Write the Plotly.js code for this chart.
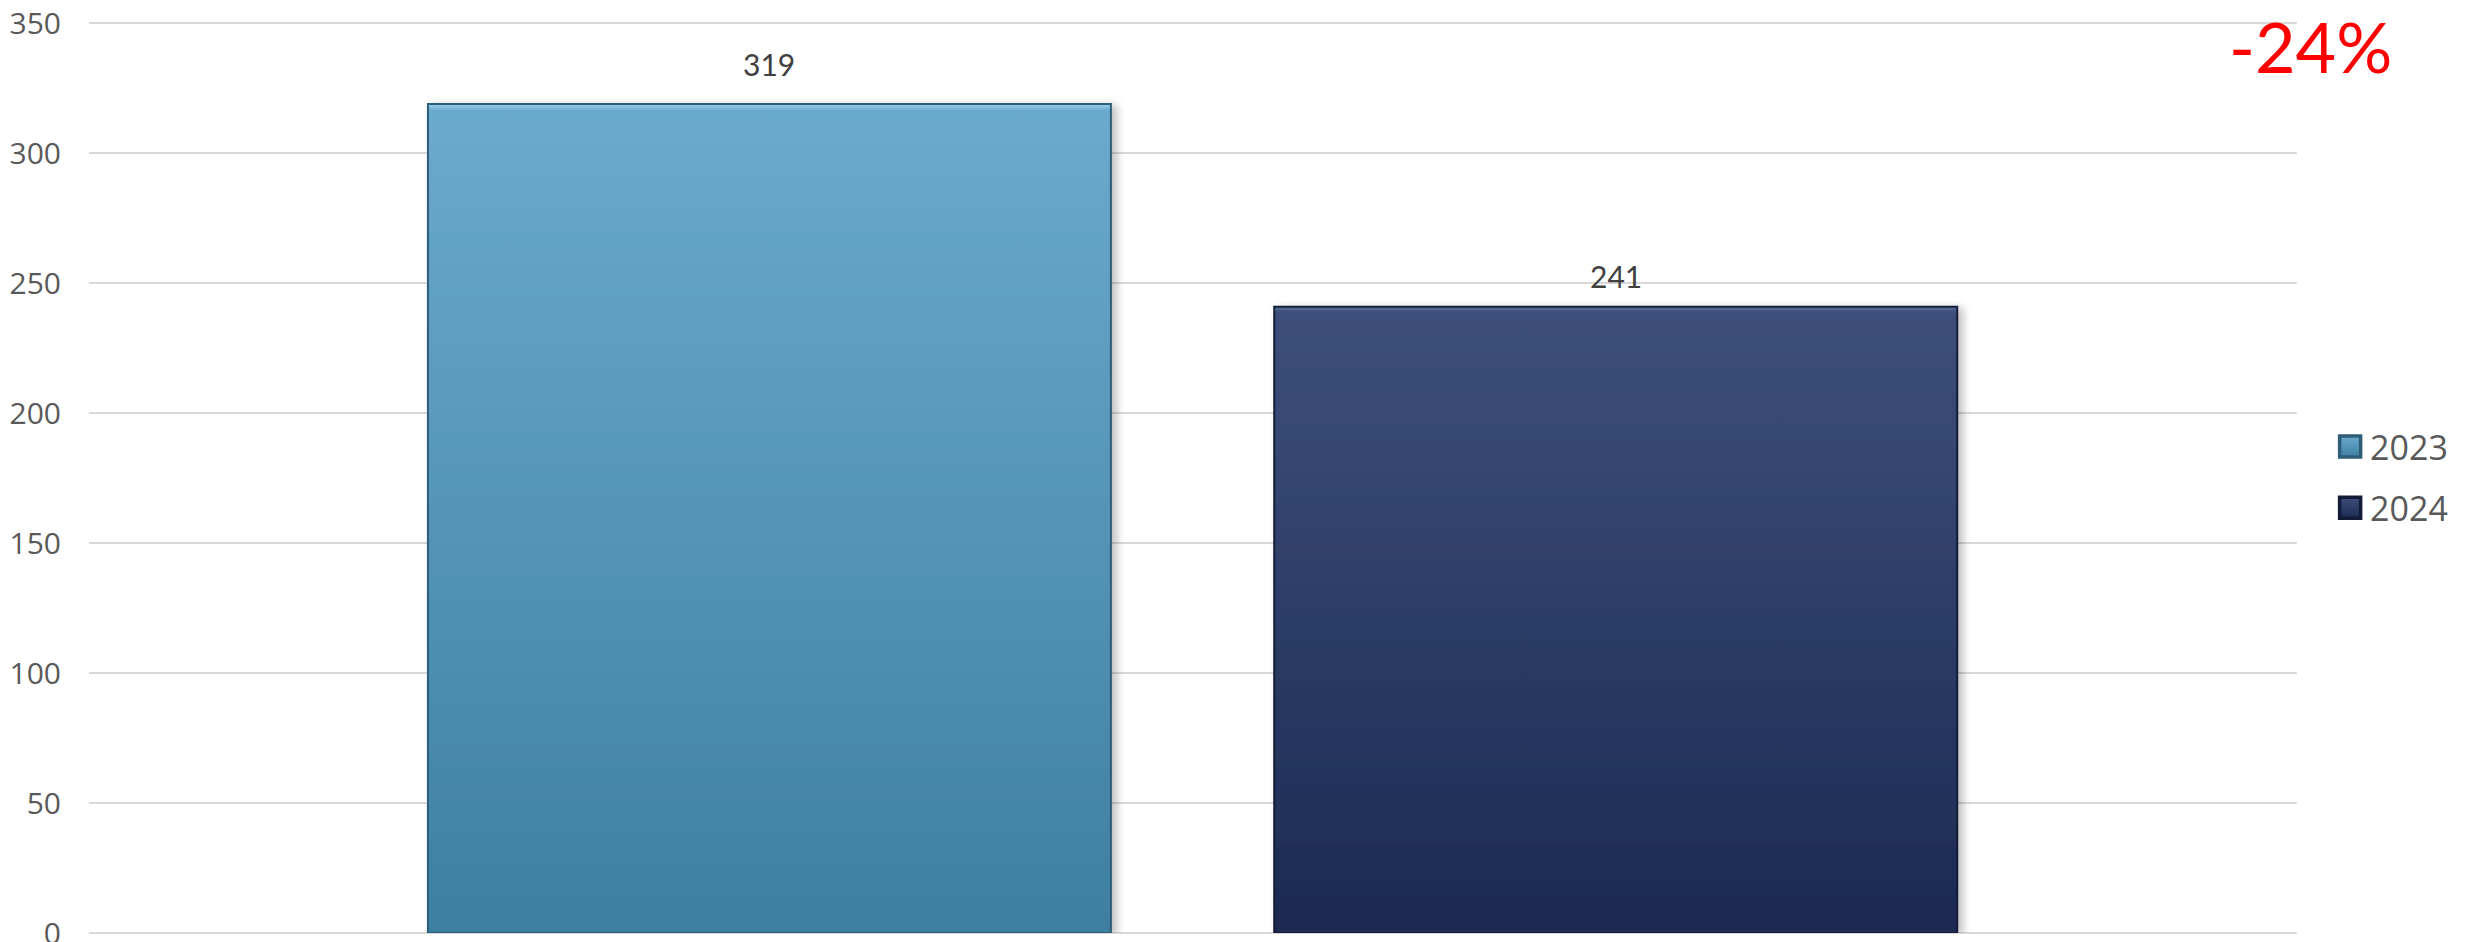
<!DOCTYPE html>
<html><head><meta charset="utf-8">
<script src="https://cdn.plot.ly/plotly-3.0.1.min.js"></script>
<style>html,body{margin:0;padding:0;background:#fff;} #chart{width:2468px;height:942px;}</style>
</head><body><div id="chart"></div>
<script>
// ---- data ----
const years = ["2023", "2024"];
const values = [319, 241];
const changeLabel = "-24%";
const yTicks = [0, 50, 100, 150, 200, 250, 300, 350];

// ---- styles ----
const barColors = ["#5597BD", "#2C3C66"];
const edgeColors = ["#2E5D78", "#121C38"];
const gradStops = [
  [[0, "#9AD3EE"], [0.008, "#6BA9CE"], [1, "#3E7FA1"]],
  [[0, "#60759F"], [0.008, "#3D4F7B"], [1, "#1B2A51"]]
];
const labelShift = [40, 31];

const traces = years.map((yr, i) => ({
  type: 'bar', name: yr, x: [yr], y: [values[i]],
  marker: {color: barColors[i], line: {color: edgeColors[i], width: 2}},
  hoverinfo: 'skip', legendgroup: yr
}));

// category index i positions the label over its own bar
const annotations = years.map((yr, i) => ({
  x: i, y: values[i], xref: 'x', yref: 'y', text: String(values[i]),
  showarrow: false, yanchor: 'middle', yshift: labelShift[i],
  font: {family: 'Lato', size: 30, color: '#404040'}
}));
annotations.push({
  xref: 'paper', yref: 'paper', x: 1.006, y: 0.9736, xanchor: 'center', yanchor: 'middle',
  text: changeLabel, showarrow: false,
  font: {family: 'Lato', size: 70, color: '#FF0000'}
});

const yMax = yTicks[yTicks.length - 1];

const layout = {
  width: 2468, height: 942,
  margin: {l: 89, r: 171, t: 22, b: 9},
  paper_bgcolor: '#ffffff', plot_bgcolor: '#ffffff',
  barmode: 'overlay', bargap: 0.193,
  xaxis: {type: 'category', range: [-0.804, 1.805], showticklabels: false, showgrid: false,
          zeroline: false, showline: false, ticks: ''},
  yaxis: {range: [0, yMax * 1.0015], tickvals: yTicks, showgrid: true, gridcolor: '#D9D9D9', gridwidth: 2,
          zeroline: true, zerolinecolor: '#D9D9D9', zerolinewidth: 2, showline: false, ticks: '',
          ticklabelstandoff: 27, ticklabeloverflow: 'allow',
          tickfont: {family: 'Open Sans', size: 30, color: '#595959'}},
  showlegend: true,
  legend: {x: 1.015, xanchor: 'left', y: 0.5, yanchor: 'middle',
           font: {family: 'Open Sans', size: 34, color: '#595959'}, tracegroupgap: 14,
           bgcolor: 'rgba(0,0,0,0)'},
  annotations: annotations
};

Plotly.newPlot('chart', traces, layout, {staticPlot: true, displayModeBar: false}).then(gd => {
  const NS = 'http://www.w3.org/2000/svg';
  const svg = gd.querySelector('svg.main-svg');
  let defs = svg.querySelector('defs');
  if (!defs) { defs = document.createElementNS(NS, 'defs'); svg.insertBefore(defs, svg.firstChild); }
  gradStops.forEach((stops, i) => {
    const lg = document.createElementNS(NS, 'linearGradient');
    lg.setAttribute('id', 'barGrad' + i);
    lg.setAttribute('x1', '0'); lg.setAttribute('y1', '0');
    lg.setAttribute('x2', '0'); lg.setAttribute('y2', '1');
    stops.forEach(s => {
      const st = document.createElementNS(NS, 'stop');
      st.setAttribute('offset', s[0]); st.setAttribute('stop-color', s[1]);
      lg.appendChild(st);
    });
    defs.appendChild(lg);
  });
  const f = document.createElementNS(NS, 'filter');
  f.setAttribute('id', 'barShadow');
  f.setAttribute('x', '-5%'); f.setAttribute('y', '-5%');
  f.setAttribute('width', '115%'); f.setAttribute('height', '110%');
  const ds = document.createElementNS(NS, 'feDropShadow');
  ds.setAttribute('dx', '5'); ds.setAttribute('dy', '2');
  ds.setAttribute('stdDeviation', '4'); ds.setAttribute('flood-color', '#000');
  ds.setAttribute('flood-opacity', '0.25');
  f.appendChild(ds); defs.appendChild(f);

  gd.querySelectorAll('.barlayer .trace').forEach((t, i) => {
    t.querySelectorAll('path').forEach(p => {
      p.style.fill = 'url(#barGrad' + i + ')';
      p.setAttribute('filter', 'url(#barShadow)');
    });
  });
  gd.querySelectorAll('.legend .traces').forEach((t, i) => {
    const p = t.querySelector('.legendpoints path');
    if (p) {
      p.style.fill = 'url(#barGrad' + i + ')';
      p.setAttribute('transform', (p.getAttribute('transform') || '') + ' scale(1.75)');
    }
  });
});
</script>
</body></html>
